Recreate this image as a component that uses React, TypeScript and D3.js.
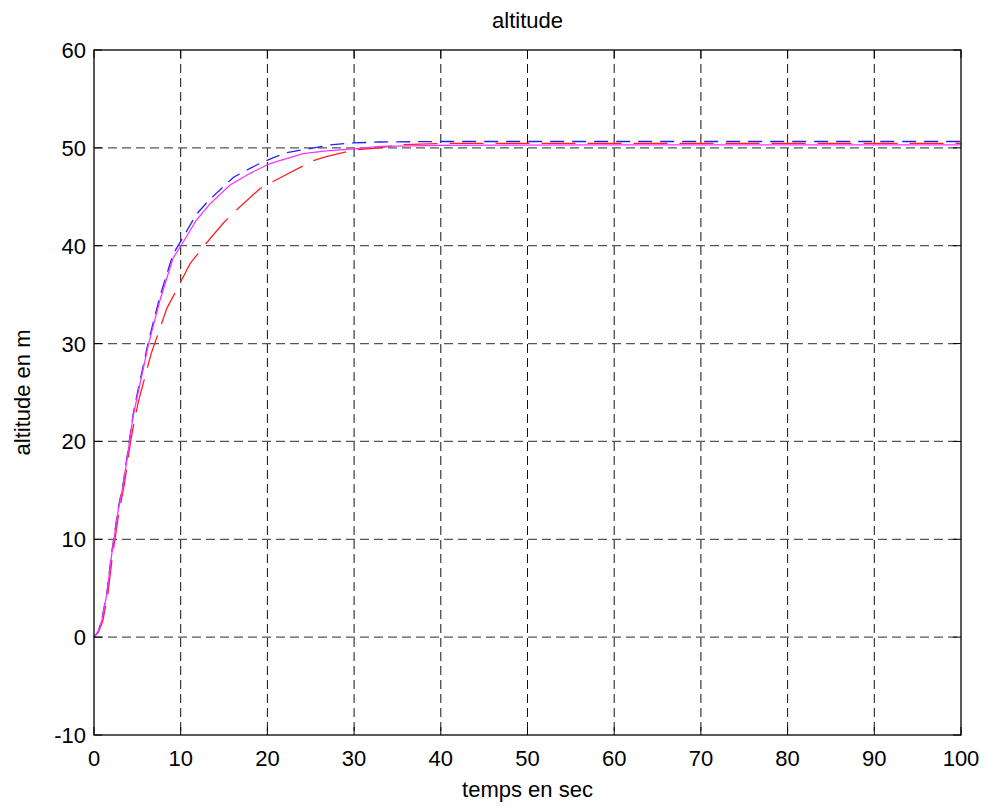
import React from "react";
import * as d3 from "d3";

const W = 987, H = 807;
const M = { left: 94, right: 961, top: 50, bottom: 735 };

const xTicks = [0, 10, 20, 30, 40, 50, 60, 70, 80, 90, 100];
const yTicks = [-10, 0, 10, 20, 30, 40, 50, 60];

// magenta (solid)
const magT = [0, 0.5, 0.9, 1.5, 2.0, 2.8, 3.4, 4.1, 4.5, 4.9, 6.3, 7.6, 9.1, 10.1, 11.8, 13.4, 15.7, 18.0, 20.3, 24.1, 26.8, 30, 33, 40, 60, 80, 100];
const magY = [0, 0.6, 1.7, 4.5, 8.2, 13.0, 15.7, 20.0, 22.5, 24.2, 30.0, 34.4, 38.7, 40.1, 42.6, 44.3, 46.2, 47.4, 48.4, 49.4, 49.7, 49.9, 50.15, 50.25, 50.3, 50.3, 50.3];

// blue (dashed)
const bluT = [0, 0.5, 0.9, 1.5, 2.0, 2.8, 3.4, 4.1, 4.5, 4.9, 6.3, 7.6, 9.1, 10.1, 11.8, 13.2, 16.1, 18.0, 19.1, 20.7, 22.2, 24.1, 27.2, 29.9, 33, 40, 60, 80, 100];
const bluY = [0, 0.6, 1.8, 4.6, 8.4, 13.2, 15.9, 20.2, 22.7, 24.5, 30.3, 34.8, 39.1, 40.6, 43.2, 44.6, 47.0, 47.9, 48.4, 49.0, 49.5, 49.8, 50.3, 50.5, 50.6, 50.65, 50.65, 50.65, 50.65];

// red (long dashes)
const redT = [0, 0.5, 1.0, 1.6, 2.1, 2.9, 3.5, 4.2, 4.7, 5.1, 6.6, 7.0, 8.4, 9.3, 11.1, 12.0, 12.8, 14.9, 16.1, 17.6, 19.1, 20.5, 25.3, 26.8, 30, 33, 35, 40, 60, 80, 100];
const redY = [0, 0.5, 1.6, 4.4, 8.1, 12.9, 15.6, 19.9, 22.3, 24.0, 29.0, 30.0, 33.6, 35.1, 38.2, 39.2, 40.1, 42.3, 43.4, 44.6, 45.8, 46.5, 48.7, 49.1, 49.8, 50.0, 50.3, 50.45, 50.45, 50.45, 50.45];

const series = [
  { t: redT, y: redY, color: "#ff2020", dash: "34,12" },
  { t: bluT, y: bluY, color: "#2020ff", dash: "14,8" },
  { t: magT, y: magY, color: "#ff30ff", dash: "none" },
];

export default function App() {
  const x = d3.scaleLinear().domain([0, 100]).range([M.left, M.right]);
  const y = d3.scaleLinear().domain([-10, 60]).range([M.bottom, M.top]);
  const line = d3
    .line<[number, number]>()
    .x((d) => x(d[0]))
    .y((d) => y(d[1]));
  const font = "Liberation Sans, Arial, Helvetica, sans-serif";
  return (
    <svg width={W} height={H} style={{ position: "absolute", left: 0, top: 0, background: "#fff" }}>
      <rect x={0} y={0} width={W} height={H} fill="#fff" />
      {/* grid */}
      {xTicks.slice(1, -1).map((t) => (
        <line key={"gx" + t} x1={x(t)} x2={x(t)} y1={M.top} y2={M.bottom} stroke="#111" strokeWidth={1} strokeDasharray="9,5" />
      ))}
      {yTicks.slice(1, -1).map((t) => (
        <line key={"gy" + t} x1={M.left} x2={M.right} y1={y(t)} y2={y(t)} stroke="#555" strokeWidth={1.3} strokeDasharray="9,5" />
      ))}
      {/* series */}
      {series.map((s, i) => (
        <path
          key={i}
          d={line(s.t.map((t, j) => [t, s.y[j]] as [number, number])) || ""}
          fill="none"
          stroke={s.color}
          strokeWidth={1.3}
          strokeDasharray={s.dash}
        />
      ))}
      {/* box */}
      <rect x={M.left} y={M.top} width={M.right - M.left} height={M.bottom - M.top} fill="none" stroke="#000" strokeWidth={1.3} />
      {/* ticks */}
      {xTicks.map((t) => (
        <g key={"tx" + t}>
          <line x1={x(t)} x2={x(t)} y1={M.bottom} y2={M.bottom - 8} stroke="#000" />
          <line x1={x(t)} x2={x(t)} y1={M.top} y2={M.top + 8} stroke="#000" />
          <text x={x(t)} y={766} textAnchor="middle" fontFamily={font} fontSize={22} fill="#000">
            {t}
          </text>
        </g>
      ))}
      {yTicks.map((t) => (
        <g key={"ty" + t}>
          <line x1={M.left} x2={M.left + 8} y1={y(t)} y2={y(t)} stroke="#000" />
          <line x1={M.right} x2={M.right - 8} y1={y(t)} y2={y(t)} stroke="#000" />
          <text x={86} y={y(t) + 8} textAnchor="end" fontFamily={font} fontSize={22} fill="#000">
            {t}
          </text>
        </g>
      ))}
      <text x={(M.left + M.right) / 2} y={28} textAnchor="middle" fontFamily={font} fontSize={22}>
        altitude
      </text>
      <text x={(M.left + M.right) / 2} y={797} textAnchor="middle" fontFamily={font} fontSize={22}>
        temps en sec
      </text>
      <text
        transform={`translate(30, ${(M.top + M.bottom) / 2}) rotate(-90)`}
        textAnchor="middle"
        fontFamily={font}
        fontSize={22}
      >
        altitude en m
      </text>
    </svg>
  );
}
